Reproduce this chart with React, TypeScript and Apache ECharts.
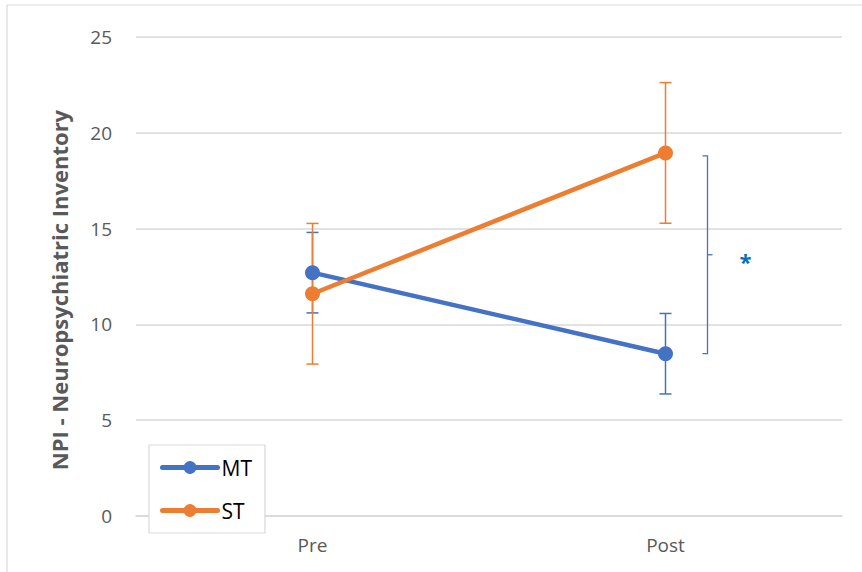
import React, { useEffect, useRef } from "react";
import * as echarts from "echarts";

// Timepoints and NPI scores (mean and error half-width) per group
const timepoints = ["Pre", "Post"];
const mtMeans = [12.7, 8.47];
const mtErrors = [2.1, 2.1];
const stMeans = [11.6, 18.95];
const stErrors = [3.67, 3.67];
const yTicks = { min: 0, max: 25, interval: 5 };
const yTitle = "NPI - Neuropsychiatric Inventory";

// Significance bracket between the groups at Post
const bracketCategory = 1;
const bracketRange = [18.8, 8.47];
const bracketLabel = "*";

const BLUE = "#4472C4";
const ORANGE = "#ED7D31";
const FONT = "'Open Sans', sans-serif";

function errorData(means: number[], errs: number[]) {
  return means.map((m, i) => [i, m - errs[i], m + errs[i]]);
}

function errorSeries(name: string, means: number[], errs: number[], color: string) {
  return {
    type: "custom",
    name: name + " error",
    z: 1,
    silent: true,
    data: errorData(means, errs),
    encode: { x: 0, y: [1, 2] },
    renderItem: (params: any, api: any) => {
      const x = api.value(0);
      const lo = api.coord([x, api.value(1)]);
      const hi = api.coord([x, api.value(2)]);
      const cap = 6;
      const style = { stroke: color, lineWidth: 1.5 };
      return {
        type: "group",
        children: [
          { type: "line", shape: { x1: lo[0], y1: lo[1], x2: hi[0], y2: hi[1] }, style },
          { type: "line", shape: { x1: lo[0] - cap, y1: lo[1], x2: lo[0] + cap, y2: lo[1] }, style },
          { type: "line", shape: { x1: hi[0] - cap, y1: hi[1], x2: hi[0] + cap, y2: hi[1] }, style },
        ],
      };
    },
  };
}

export default function App() {
  const ref = useRef<HTMLDivElement>(null);

  useEffect(() => {
    document.body.style.margin = "0";
    if (!ref.current) return;
    const chart = echarts.init(ref.current, null, { renderer: "svg" });

    const option: any = {
      animation: false,
      backgroundColor: "#fff",
      grid: { left: 136, right: 20, top: 37, bottom: 56 },
      graphic: [
        {
          type: "rect",
          shape: { x: 7, y: 5, width: 900, height: 600 },
          style: { fill: "none", stroke: "#d9d9d9", lineWidth: 1.2 },
          silent: true,
          z: -10,
        },
        {
          type: "text",
          x: 59,
          y: 290,
          rotation: Math.PI / 2,
          silent: true,
          style: {
            text: yTitle,
            fill: "#595959",
            fontFamily: FONT,
            fontSize: 22,
            fontWeight: "bold",
            align: "center",
            verticalAlign: "middle",
          },
        },
      ],
      legend: {
        data: ["MT", "ST"],
        orient: "vertical",
        left: 149,
        top: 445,
        padding: [12, 13, 12, 11],
        itemWidth: 55,
        itemHeight: 16,
        itemGap: 22,
        backgroundColor: "#fff",
        borderColor: "#d9d9d9",
        borderWidth: 1.2,
        borderRadius: 0,
        lineStyle: { width: 5, cap: "round" },
        textStyle: { fontFamily: FONT, fontSize: 21, color: "#000", padding: [0, 0, 0, -1] },
      },
      xAxis: {
        type: "category",
        data: timepoints,
        boundaryGap: true,
        axisLine: { show: true, lineStyle: { color: "#d9d9d9", width: 1.5 } },
        axisTick: { show: false },
        axisLabel: { fontFamily: FONT, fontSize: 19, color: "#595959", margin: 19 },
      },
      yAxis: {
        type: "value",
        min: yTicks.min,
        max: yTicks.max,
        interval: yTicks.interval,
        axisLine: { show: false },
        axisTick: { show: false },
        axisLabel: { fontFamily: FONT, fontSize: 19, color: "#595959", margin: 24 },
        splitLine: { lineStyle: { color: "#d9d9d9", width: 1.5 } },
      },
      series: [
        errorSeries("MT", mtMeans, mtErrors, BLUE),
        errorSeries("ST", stMeans, stErrors, ORANGE),
        {
          type: "line",
          name: "MT",
          data: mtMeans,
          z: 3,
          symbol: "circle",
          symbolSize: 15,
          itemStyle: { color: BLUE },
          lineStyle: { color: BLUE, width: 4.5, cap: "round" },
        },
        {
          type: "line",
          name: "ST",
          data: stMeans,
          z: 4,
          symbol: "circle",
          symbolSize: 15,
          itemStyle: { color: ORANGE },
          lineStyle: { color: ORANGE, width: 4.5, cap: "round" },
        },
        {
          type: "custom",
          name: "bracket",
          silent: true,
          z: 2,
          data: [[bracketCategory, bracketRange[0], bracketRange[1]]],
          encode: { x: 0, y: [1, 2] },
          renderItem: (params: any, api: any) => {
            const c = api.value(0);
            const top = api.coord([c, api.value(1)]);
            const bot = api.coord([c, api.value(2)]);
            const x = top[0] + 42;
            const midY = (top[1] + bot[1]) / 2;
            const style = { stroke: BLUE, lineWidth: 1.3, fill: "none" };
            return {
              type: "group",
              children: [
                {
                  type: "polyline",
                  shape: { points: [[x - 5, top[1]], [x, top[1]], [x, bot[1]], [x - 5, bot[1]]] },
                  style,
                },
                { type: "line", shape: { x1: x, y1: midY, x2: x + 5, y2: midY }, style },
                {
                  type: "text",
                  x: x + 38,
                  y: midY + 6,
                  style: {
                    text: bracketLabel,
                    fill: "#0070C0",
                    fontSize: 22,
                    fontWeight: "bold",
                    fontFamily: FONT,
                    align: "center",
                    verticalAlign: "middle",
                  },
                },
              ],
            };
          },
        },
      ],
    };

    chart.setOption(option);
    return () => chart.dispose();
  }, []);

  return <div ref={ref} style={{ width: 862, height: 572 }} />;
}
